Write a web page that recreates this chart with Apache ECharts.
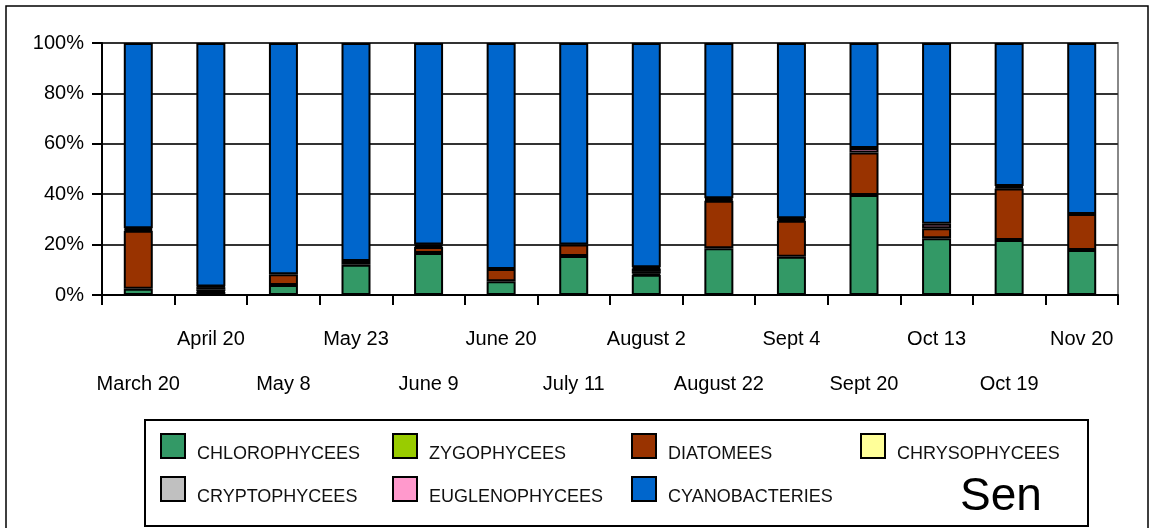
<!DOCTYPE html>
<html>
<head>
<meta charset="utf-8">
<script src="https://cdn.jsdelivr.net/npm/echarts@6/dist/echarts.min.js"></script>
<style>
  html, body { margin: 0; padding: 0; background: #fff; }
  #chart { width: 1155px; height: 528px; }
</style>
</head>
<body>
<div id="chart"></div>
<script>
// sampling dates
const dates = ['March 20', 'April 20', 'May 8', 'May 23', 'June 9', 'June 20', 'July 11',
  'August 2', 'August 22', 'Sept 4', 'Sept 20', 'Oct 13', 'Oct 19', 'Nov 20']

// share of each group (%); null = absent
const chlorophycees   = [2.5, 1.2, 4.0, 12.0, 16.7, 5.5, 15.5, 8.0, 18.6, 15.2, 39.7, 22.5, 21.8, 17.9]
const zygophycees     = [null, null, null, null, null, null, null, null, null, null, null, null, null, null]
const diatomees       = [23.0, 0.3, 4.2, 1.5, 2.3, 4.8, 4.5, 0.5, 18.8, 14.3, 16.8, 4.0, 20.5, 14.2]
const chrysophycees   = [0.5, 0.8, null, null, 0.5, null, null, 1.0, 0.5, 0.5, null, null, 0.5, null]
const cryptophycees   = [0.5, 0.8, null, null, 0.5, null, null, 1.0, 0.5, 0.5, null, null, 0.5, null]
const euglenophycees  = [null, 0.3, null, null, null, null, null, 0.5, null, null, 1.8, 1.8, null, null]
const cyanobacteries  = [73.5, 96.6, 91.8, 86.5, 80.0, 89.7, 80.0, 89.0, 61.6, 69.5, 41.7, 71.7, 56.7, 67.9]

const yTicks = [0, 20, 40, 60, 80, 100]

const groups = [
  { name: 'CHLOROPHYCEES', data: chlorophycees, color: '#339966' },
  { name: 'ZYGOPHYCEES', data: zygophycees, color: '#99cc00' },
  { name: 'DIATOMEES', data: diatomees, color: '#993300' },
  { name: 'CHRYSOPHYCEES', data: chrysophycees, color: '#ffff99' },
  { name: 'CRYPTOPHYCEES', data: cryptophycees, color: '#c0c0c0' },
  { name: 'EUGLENOPHYCEES', data: euglenophycees, color: '#ff99cc' },
  { name: 'CYANOBACTERIES', data: cyanobacteries, color: '#0066cc' }
]

// legend slots: [left, top]
const legendPos = {
  'CHLOROPHYCEES': [160, 433],
  'ZYGOPHYCEES': [392, 433],
  'DIATOMEES': [631, 433],
  'CHRYSOPHYCEES': [860, 433],
  'CRYPTOPHYCEES': [160, 476],
  'EUGLENOPHYCEES': [392, 476],
  'CYANOBACTERIES': [631, 476]
}

const font = "'Liberation Sans', Arial, sans-serif"
const chart = echarts.init(document.getElementById('chart'))

const option = {
  animation: false,
  backgroundColor: '#fff',
  grid: {
    left: 102, right: 37, top: 43, bottom: 233,
    show: true, borderColor: '#888', borderWidth: 2, backgroundColor: 'transparent'
  },
  xAxis: {
    type: 'category',
    data: dates,
    axisLine: { lineStyle: { color: '#000', width: 2 } },
    axisTick: { show: true, length: 10, lineStyle: { color: '#000', width: 2 } },
    axisLabel: {
      interval: 0,
      margin: 22,
      color: '#000',
      fontFamily: font,
      fontSize: 20,
      lineHeight: 45,
      formatter: (v, i) => (i % 2 === 0 ? '\n' + v : v)
    }
  },
  yAxis: {
    type: 'value',
    min: 0,
    max: 100,
    interval: 20,
    axisLine: { show: true, lineStyle: { color: '#000', width: 2 } },
    axisTick: { show: true, length: 10, lineStyle: { color: '#000', width: 2 } },
    axisLabel: {
      margin: 18,
      color: '#000',
      fontFamily: font,
      fontSize: 20,
      formatter: v => (yTicks.includes(v) ? v + '%' : '')
    },
    splitLine: { lineStyle: { color: '#333', width: 2 } }
  },
  legend: groups.map(g => ({
    data: [g.name],
    left: legendPos[g.name][0],
    top: legendPos[g.name][1],
    padding: 0,
    itemWidth: 24,
    itemHeight: 24,
    icon: 'rect',
    selectedMode: false,
    formatter: '{t|{name}}',
    textStyle: {
      rich: {
        t: {
          fontFamily: font,
          fontSize: 18,
          color: '#111',
          padding: [16, 0, 0, 7]
        }
      }
    }
  })),
  graphic: [
    {
      type: 'rect',
      z: 0,
      shape: { x: 6, y: 6, width: 1142, height: 560 },
      style: { fill: 'none', stroke: '#000', lineWidth: 1.5 }
    },
    {
      type: 'rect',
      z: 0,
      shape: { x: 145, y: 420, width: 943, height: 106 },
      style: { fill: '#fff', stroke: '#000', lineWidth: 2 }
    },
    {
      type: 'text',
      z: 5,
      left: 960,
      top: 474,
      style: { text: 'Sen', font: '46px ' + font, fill: '#000' }
    }
  ],
  series: groups.map(g => ({
    name: g.name,
    type: 'bar',
    stack: 'total',
    barWidth: 29,
    data: g.data,
    itemStyle: { color: g.color, borderColor: '#000', borderWidth: 2 }
  }))
}

chart.setOption(option)
</script>
</body>
</html>
